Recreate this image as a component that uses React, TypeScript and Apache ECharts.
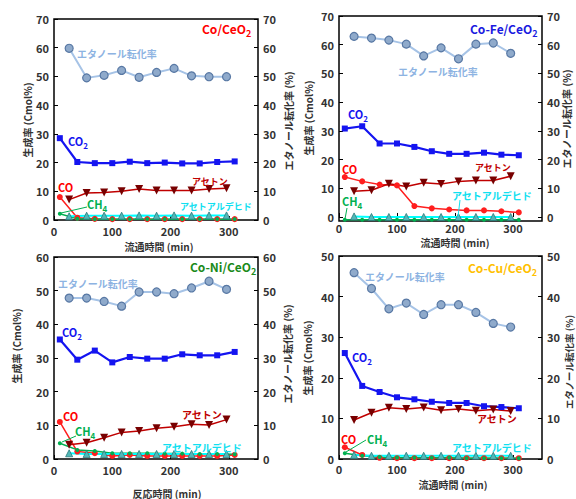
import React, { useEffect, useRef } from "react";
import * as echarts from "echarts";

// sampling times (min)
const timeA = [10, 40, 70, 100, 130, 160, 190, 220, 250, 280, 310];
const timeB = [26, 56, 86, 116, 146, 176, 206, 236, 266, 296];
const xTickValues = [0, 100, 200, 300];

// Panel 1: Co/CeO2
const p1Ethanol = [59.8, 49.5, 50.4, 52.1, 49.7, 51.4, 52.8, 50.2, 49.9, 49.9];
const p1CO2 = [28.5, 20.2, 19.8, 19.8, 20.3, 19.8, 20.0, 19.7, 19.7, 20.2, 20.4];
const p1Acetone = [7.1, 9.4, 9.6, 10.0, 10.8, 10.3, 10.3, 10.3, 10.8, 11.1];
const p1CO = [8.0, 0.8, 0.4, 0.3, 0.3, 0.3, 0.3, 0.3, 0.3, 0.3, 0.3];
const p1CH4 = [2.2, 0.4, 0.3, 0.3, 0.3, 0.3, 0.3, 0.3, 0.3, 0.3, 0.3];
const p1Ald = [1.3, 1.5, 1.5, 1.5, 1.6, 1.5, 1.6, 1.5, 1.6, 1.6];

// Panel 2: Co-Fe/CeO2
const p2Ethanol = [62.9, 62.3, 61.6, 60.2, 56.1, 58.9, 55.1, 60.2, 60.6, 57.0];
const p2CO2 = [30.8, 31.6, 25.6, 25.6, 24.4, 22.9, 22.0, 22.0, 22.4, 21.7, 21.5];
const p2Acetone = [9.0, 9.3, 11.6, 10.6, 11.9, 11.5, 12.4, 12.7, 12.7, 14.2];
const p2CO = [13.9, 12.4, 11.3, 11.0, 3.8, 3.0, 2.6, 2.3, 2.3, 2.0, 1.6];
const p2CH4 = [-1.0, -1.0, -1.0, -1.0, -1.0, -1.0, -1.0, -1.0, -1.0, -1.0, -1.0];
const p2Ald = [0.2, 0.0, 0.0, 0.0, 0.0, 0.0, 0.0, 0.0, 0.0, 0.0];

// Panel 3: Co-Ni/CeO2
const p3Ethanol = [47.8, 47.8, 46.8, 45.4, 49.6, 49.6, 49.1, 50.8, 52.8, 50.4];
const p3CO2 = [35.5, 29.5, 32.2, 28.7, 30.3, 29.8, 29.8, 31.1, 30.8, 30.8, 31.8];
const p3Acetone = [4.2, 4.8, 6.3, 7.9, 8.3, 9.1, 9.6, 10.3, 10.1, 11.7];
const p3CO = [11.0, 2.2, 1.7, 0.9, 1.2, 0.9, 0.9, 0.9, 0.9, 0.9, 1.2];
const p3CH4 = [4.7, 2.7, 2.4, 1.7, 1.7, 1.7, 1.6, 1.6, 1.5, 1.5, 1.4];
const p3Ald = [1.7, 1.5, 1.5, 1.5, 1.5, 1.5, 1.5, 1.5, 1.5, 1.5];

// Panel 4: Co-Cu/CeO2
const p4Ethanol = [45.9, 42.0, 37.0, 38.4, 35.6, 38.0, 38.0, 36.1, 33.4, 32.5];
const p4CO2 = [26.1, 18.0, 16.5, 15.2, 14.7, 14.1, 13.8, 13.8, 13.0, 12.8, 12.5];
const p4Acetone = [9.6, 11.4, 12.6, 12.3, 12.7, 12.0, 12.3, 11.9, 12.2, 11.8];
const p4CO = [2.9, 1.0, 0.3, 0.2, 0.2, 0.2, 0.2, 0.2, 0.2, 0.2, 0.2];
const p4CH4 = [1.4, 0.8, 0.5, 0.3, 0.3, 0.3, 0.3, 0.2, 0.2, 0.2, 0.2];
const p4Ald = [1.0, 0.8, 0.8, 0.8, 0.8, 0.8, 0.8, 0.8, 0.8, 0.8];

const yTicks70 = [0, 10, 20, 30, 40, 50, 60, 70];
const yTicks60 = [0, 10, 20, 30, 40, 50, 60];
const yTicks50 = [0, 10, 20, 30, 40, 50];

const FONT = "'Noto Sans CJK JP', 'Noto Sans', sans-serif";
const C = {
  ethLine: "#a6c3e6",
  ethFill: "#8faacb",
  ethBorder: "#5878a4",
  co2: "#1414f0",
  acetone: "#c00000",
  acetoneMark: "#780000",
  co: "#ff1e1e",
  ch4: "#00b050",
  ald: "#00ffff",
  aldFill: "#52b8b8",
  aldBorder: "#2a7a7a",
};

const panelsData = [
  { eth: p1Ethanol, co2: p1CO2, ace: p1Acetone, co: p1CO, ch4: p1CH4, ald: p1Ald, yMin: 0, yMax: 70, yTicks: yTicks70, xMargin: 5,
    grid: { left: 54, top: 19, width: 204, height: 201 } },
  { eth: p2Ethanol, co2: p2CO2, ace: p2Acetone, co: p2CO, ch4: p2CH4, ald: p2Ald, yMin: -1.4, yMax: 70, yTicks: yTicks70, xMargin: 1,
    grid: { left: 339, top: 16, width: 203, height: 205 } },
  { eth: p3Ethanol, co2: p3CO2, ace: p3Acetone, co: p3CO, ch4: p3CH4, ald: p3Ald, yMin: 0, yMax: 60, yTicks: yTicks60, xMargin: 5,
    grid: { left: 54, top: 257, width: 204, height: 202 } },
  { eth: p4Ethanol, co2: p4CO2, ace: p4Acetone, co: p4CO, ch4: p4CH4, ald: p4Ald, yMin: 0, yMax: 50, yTicks: yTicks50, xMargin: 4,
    grid: { left: 339, top: 256, width: 203, height: 203 } },
];

function pairs(xs: number[], ys: number[]) {
  return ys.map((v, i) => [xs[i], v]);
}

function label(x: number, y: number, text: string, color: string, size: number, align = "left") {
  return {
    type: "text",
    x, y,
    z: 100,
    style: { text, fill: color, font: `bold ${size}px ${FONT}`, align, verticalAlign: "middle" },
  };
}

function subLabel(x: number, y: number, main: string, sub: string, color: string, size = 11) {
  return {
    type: "text",
    x, y,
    z: 100,
    style: {
      text: `{m|${main}}{s|${sub}}`,
      align: "left",
      verticalAlign: "middle",
      rich: {
        m: { fill: color, fontSize: size, fontWeight: "bold", fontFamily: FONT, lineHeight: size + 3, verticalAlign: "top" },
        s: { fill: color, fontSize: size - 3, fontWeight: "bold", fontFamily: FONT, lineHeight: size - 3, verticalAlign: "bottom" },
      },
    },
  };
}

function leader(x1: number, y1: number, x2: number, y2: number, color: string) {
  return { type: "line", z: 100, shape: { x1, y1, x2, y2 }, style: { stroke: color, lineWidth: 1 } };
}

function yName(x: number, y: number, main: string, size = 10) {
  return {
    type: "text",
    x, y,
    rotation: Math.PI / 2,
    z: 100,
    style: { text: main, fill: "#333", font: `bold ${size}px ${FONT}`, align: "center", verticalAlign: "middle" },
  };
}

function xName(x: number, y: number, text: string) {
  return {
    type: "text",
    x, y,
    z: 100,
    style: { text, fill: "#333", font: `bold 10px ${FONT}`, align: "center", verticalAlign: "middle" },
  };
}

export default function App() {
  const ref = useRef<HTMLDivElement>(null);
  useEffect(() => {
    if (!ref.current) return;
    const chart = echarts.init(ref.current, null, { renderer: "svg" });

    const grids: any[] = [];
    const xAxes: any[] = [];
    const yAxes: any[] = [];
    const series: any[] = [];
    const axisLabelStyle = { fontSize: 11, color: "#333", fontWeight: "bold", fontFamily: FONT };

    panelsData.forEach((p, i) => {
      grids.push({ ...p.grid, show: true, borderColor: "#000", borderWidth: 1.5, backgroundColor: "transparent" });
      xAxes.push({
        type: "value", gridIndex: i, min: 0, max: 350,
        axisLine: { show: false },
        axisTick: { inside: true, length: 4, lineStyle: { color: "#000", width: 1 }, customValues: xTickValues },
        axisLabel: { ...axisLabelStyle, margin: p.xMargin, customValues: xTickValues },
        splitLine: { show: false },
      });
      ["left", "right"].forEach((pos) => {
        yAxes.push({
          type: "value", gridIndex: i, position: pos, min: p.yMin, max: p.yMax,
          axisLine: { show: false },
          axisTick: { show: true, inside: true, length: 4, lineStyle: { color: "#000", width: 1 }, customValues: p.yTicks },
          axisLabel: { ...axisLabelStyle, margin: 5, customValues: p.yTicks },
          splitLine: { show: false },
        });
      });
      const base = { type: "line", xAxisIndex: i, yAxisIndex: 2 * i, silent: true };
      series.push({
        ...base, yAxisIndex: 2 * i + 1, name: "エタノール転化率", data: pairs(timeB, p.eth),
        symbol: "circle", symbolSize: 8,
        lineStyle: { color: C.ethLine, width: 2 },
        itemStyle: { color: C.ethFill, borderColor: C.ethBorder, borderWidth: 1.2 },
      });
      series.push({
        ...base, name: "CO2", data: pairs(timeA, p.co2), symbol: "rect", symbolSize: 6,
        lineStyle: { color: C.co2, width: 2.2 }, itemStyle: { color: C.co2 },
      });
      series.push({
        ...base, name: "CO", data: pairs(timeA, p.co), symbol: "circle", symbolSize: 6,
        lineStyle: { color: C.co, width: 1.5 }, itemStyle: { color: C.co },
      });
      series.push({
        ...base, name: "CH4", data: pairs(timeA, p.ch4), symbol: "circle", symbolSize: 4,
        lineStyle: { color: C.ch4, width: 1.5 }, itemStyle: { color: C.ch4 },
      });
      series.push({
        ...base, name: "アセトアルデヒド", data: pairs(timeB, p.ald), symbol: "triangle", symbolSize: 7,
        lineStyle: { color: C.ald, width: 2 }, itemStyle: { color: C.aldFill, borderColor: C.aldBorder, borderWidth: 0.8 },
      });
      series.push({
        ...base, name: "アセトン", data: pairs(timeB, p.ace), symbol: "triangle", symbolRotate: 180, symbolSize: 8,
        lineStyle: { color: C.acetone, width: 1.5 }, itemStyle: { color: C.acetoneMark },
      });
    });

    const ethLabel = "#8db3e2";
    const aldLabel = "#10e0f0";
    const graphic: any[] = [
      // Panel 1
      subLabel(202, 30, "Co/CeO", "2", "#ff0000", 12),
      label(77, 53, "エタノール転化率", ethLabel, 10),
      subLabel(68, 142, "CO", "2", C.co2, 11),
      label(58, 187, "CO", "#ff0000", 11),
      subLabel(87, 205, "CH", "4", C.ch4, 11),
      leader(87, 207, 61, 213, C.ch4),
      label(192, 181, "アセトン", C.acetone, 9),
      label(180, 206, "アセトアルデヒド", aldLabel, 9),
      // Panel 2
      subLabel(470, 30, "Co-Fe/CeO", "2", "#1a1ae0", 12),
      label(398, 71, "エタノール転化率", ethLabel, 10),
      subLabel(348, 115, "CO", "2", C.co2, 11),
      label(342, 169, "CO", "#ff0000", 11),
      label(475, 167, "アセトン", C.acetone, 9),
      label(452, 195, "アセトアルデヒド", aldLabel, 10),
      leader(460, 200, 458, 217, aldLabel),
      subLabel(342, 202, "CH", "4", C.ch4, 11),
      leader(347, 208, 345, 219, C.ch4),
      // Panel 3
      subLabel(190, 268, "Co-Ni/CeO", "2", "#1a8a1a", 12),
      label(58, 283, "エタノール転化率", ethLabel, 10),
      subLabel(62, 333, "CO", "2", C.co2, 11),
      label(63, 416, "CO", "#ff0000", 11),
      subLabel(75, 432, "CH", "4", C.ch4, 11),
      leader(76, 436, 62, 442, C.ch4),
      label(182, 414, "アセトン", C.acetone, 10),
      label(162, 447, "アセトアルデヒド", aldLabel, 10),
      // Panel 4
      subLabel(468, 269, "Co-Cu/CeO", "2", "#ffc000", 12),
      label(365, 276, "エタノール転化率", ethLabel, 10),
      subLabel(352, 358, "CO", "2", C.co2, 11),
      label(477, 418, "アセトン", C.acetone, 10),
      label(341, 439, "CO", "#ff0000", 11),
      subLabel(367, 440, "CH", "4", C.ch4, 11),
      leader(366, 440, 346, 452, C.ch4),
      label(452, 447, "アセトアルデヒド", aldLabel, 10),
      // axis names
      yName(27, 120, "生成率 (Cmol%)"),
      yName(288, 121, "エタノール転化率 (%)"),
      yName(308, 118, "生成率 (Cmol%)"),
      yName(566, 119, "エタノール転化率 (%)"),
      yName(16, 346, "生成率 (Cmol%)"),
      yName(287, 354, "エタノール転化率 (%)"),
      yName(307, 358, "生成率 (Cmol%)"),
      yName(569, 362, "エタノール転化率 (%)", 9.5),
      xName(159, 246, "流通時間 (min)"),
      xName(455, 242, "流通時間 (min)"),
      xName(167, 493, "反応時間 (min)"),
      xName(453, 484, "流通時間 (min)"),
    ];

    chart.setOption({
      animation: false,
      backgroundColor: "#fff",
      grid: grids,
      xAxis: xAxes,
      yAxis: yAxes,
      series,
      graphic,
    });
    return () => chart.dispose();
  }, []);
  return (
    <div
      ref={ref}
      style={{ position: "fixed", left: 0, top: 0, width: 576, height: 499, background: "#fff" }}
    />
  );
}
